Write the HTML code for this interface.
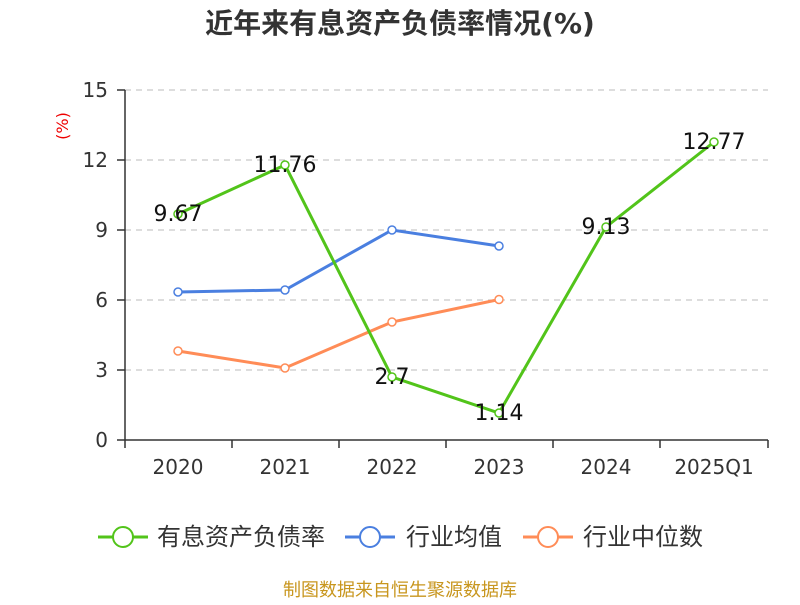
<!DOCTYPE html>
<html><head><meta charset="utf-8"><style>
body{margin:0;background:#fff}
svg text{font-family:"DejaVu Sans","Noto Sans CJK SC",sans-serif}
</style></head><body>
<svg width="800" height="600" viewBox="0 0 800 600" xmlns="http://www.w3.org/2000/svg">
<rect width="800" height="600" fill="#fff"/>
<text x="400" y="33" text-anchor="middle" font-size="28" font-weight="bold" fill="#333">近年来有息资产负债率情况(%)</text>
<g stroke="#bbb" stroke-dasharray="6,5" stroke-width="1">
<line x1="125" y1="90" x2="768" y2="90"/>
<line x1="125" y1="160" x2="768" y2="160"/>
<line x1="125" y1="230" x2="768" y2="230"/>
<line x1="125" y1="300" x2="768" y2="300"/>
<line x1="125" y1="370" x2="768" y2="370"/>
</g>
<g stroke="#333" stroke-width="1.5">
<line x1="125" y1="90" x2="125" y2="440"/>
<line x1="125" y1="440" x2="768" y2="440"/>
<line x1="117" y1="90" x2="125" y2="90"/><line x1="117" y1="160" x2="125" y2="160"/>
<line x1="117" y1="230" x2="125" y2="230"/><line x1="117" y1="300" x2="125" y2="300"/>
<line x1="117" y1="370" x2="125" y2="370"/><line x1="117" y1="440" x2="125" y2="440"/>
<line x1="125" y1="440" x2="125" y2="448"/><line x1="232" y1="440" x2="232" y2="448"/>
<line x1="339" y1="440" x2="339" y2="448"/><line x1="446" y1="440" x2="446" y2="448"/>
<line x1="553" y1="440" x2="553" y2="448"/><line x1="660" y1="440" x2="660" y2="448"/>
<line x1="768" y1="440" x2="768" y2="448"/>
</g>
<g font-size="20" fill="#333" text-anchor="end">
<text x="108" y="97">15</text><text x="108" y="167">12</text><text x="108" y="237">9</text>
<text x="108" y="307">6</text><text x="108" y="377">3</text><text x="108" y="447">0</text>
</g>
<text x="0" y="0" font-size="16" fill="#e00" transform="translate(68,126) rotate(-90)" text-anchor="middle">(%)</text>
<g font-size="20" fill="#333" text-anchor="middle">
<text x="178" y="474">2020</text><text x="285" y="474">2021</text><text x="392" y="474">2022</text>
<text x="499" y="474">2023</text><text x="606" y="474">2024</text><text x="714" y="474">2025Q1</text>
</g>
<polyline fill="none" stroke="#ff8c57" stroke-width="3" points="178,351 285,368 392,322 499,299.5"/>
<polyline fill="none" stroke="#4a7fe0" stroke-width="3" points="178,292 285,290 392,230 499,246"/>
<polyline fill="none" stroke="#52c41a" stroke-width="3" points="178,214 285,165 392,377 499,413 606,227 714,142"/>
<g fill="#fff" stroke-width="1.5">
<g stroke="#ff8c57"><circle cx="178" cy="351" r="4"/><circle cx="285" cy="368" r="4"/><circle cx="392" cy="322" r="4"/><circle cx="499" cy="299.5" r="4"/></g>
<g stroke="#4a7fe0"><circle cx="178" cy="292" r="4"/><circle cx="285" cy="290" r="4"/><circle cx="392" cy="230" r="4"/><circle cx="499" cy="246" r="4"/></g>
<g stroke="#52c41a"><circle cx="178" cy="214" r="4"/><circle cx="285" cy="165" r="4"/><circle cx="392" cy="377" r="4"/><circle cx="499" cy="413" r="4"/><circle cx="606" cy="227" r="4"/><circle cx="714" cy="142" r="4"/></g>
</g>
<g font-size="22" fill="#111" text-anchor="middle">
<text x="178" y="221">9.67</text><text x="285" y="172">11.76</text><text x="392" y="384">2.7</text>
<text x="499" y="420">1.14</text><text x="606" y="234">9.13</text><text x="714" y="149">12.77</text>
</g>
<g stroke-width="3" fill="#fff">
<line x1="98" y1="537" x2="148" y2="537" stroke="#52c41a"/><circle cx="123" cy="537" r="10" stroke="#52c41a" stroke-width="2"/>
<line x1="345" y1="537" x2="395" y2="537" stroke="#4a7fe0"/><circle cx="370" cy="537" r="10" stroke="#4a7fe0" stroke-width="2"/>
<line x1="523" y1="537" x2="573" y2="537" stroke="#ff8c57"/><circle cx="548" cy="537" r="10" stroke="#ff8c57" stroke-width="2"/>
</g>
<g font-size="24" fill="#333">
<text x="157" y="545">有息资产负债率</text><text x="406" y="545">行业均值</text><text x="583" y="545">行业中位数</text>
</g>
<text x="400" y="596" text-anchor="middle" font-size="18" fill="#c8961e">制图数据来自恒生聚源数据库</text>
</svg>
</body></html>
